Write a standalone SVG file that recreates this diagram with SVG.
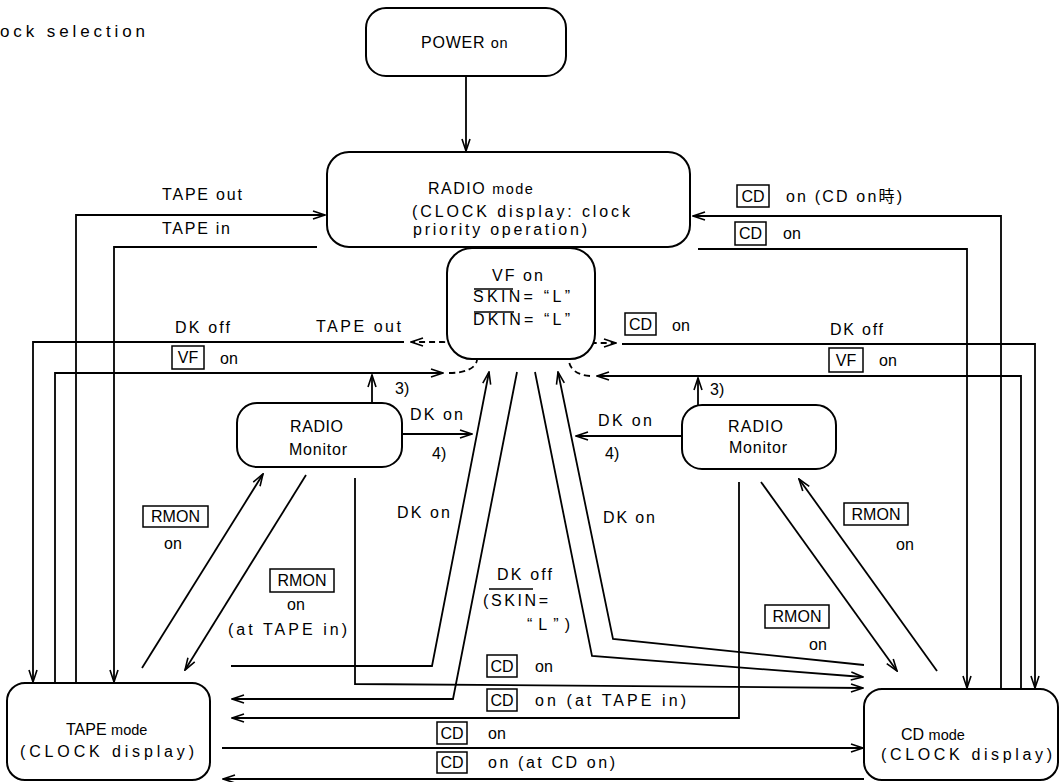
<svg xmlns="http://www.w3.org/2000/svg" width="1060" height="782" viewBox="0 0 1060 782">
<defs>
<style>
.n{fill:#fff;stroke:#000;stroke-width:2}
.c{fill:none;stroke:#000;stroke-width:1.8}
.d{fill:none;stroke:#000;stroke-width:1.8;stroke-dasharray:6 4}
.k{fill:none;stroke:#000;stroke-width:1.5}
.t{font-family:"Liberation Sans",Arial,"Noto Sans CJK JP",sans-serif;font-size:16px;fill:#000}
.s{font-size:14.5px}
.m{text-anchor:middle}
</style>
<marker id="a" viewBox="0 0 14 10" refX="13" refY="5" markerWidth="14" markerHeight="10" markerUnits="userSpaceOnUse" orient="auto"><path d="M1,1 L13,5 L1,9" fill="none" stroke="#000" stroke-width="1.6"/></marker>
</defs>
<rect width="1060" height="782" fill="#fff"/>
<text class="t" x="0" y="37" textLength="145" style="font-size:17px">ock selection</text>

<g id="connectors">
<path class="c" d="M466,76 L466,151" marker-end="url(#a)"/>
<path class="c" d="M76,683 L76,215 L325,215" marker-end="url(#a)"/>
<path class="c" d="M317,247 L114,247 L114,682" marker-end="url(#a)"/>
<path class="c" d="M1001,689 L1001,216 L693,216" marker-end="url(#a)"/>
<path class="c" d="M698,249 L967,249 L967,688" marker-end="url(#a)"/>
<path class="d" d="M477,360 C478,350 462,342 443,342 L411,342" marker-end="url(#a)"/>
<path class="c" d="M404,342 L33,342 L33,682" marker-end="url(#a)"/>
<path class="c" d="M55,683 L55,373 L443,373" marker-end="url(#a)"/>
<path class="d" d="M449,373 C466,373 476,368 477,360"/>
<path class="d" d="M569,360 C569,350 580,343 595,343 L616,343" marker-end="url(#a)"/>
<path class="c" d="M622,344 L1035,344 L1035,688" marker-end="url(#a)"/>
<path class="c" d="M1021,689 L1021,376 L597,376" marker-end="url(#a)"/>
<path class="d" d="M590,376 C576,375 569,368 569,360"/>
<path class="c" d="M372,402 L372,375" marker-end="url(#a)"/>
<path class="c" d="M698,405 L698,378" marker-end="url(#a)"/>
<path class="c" d="M402,434 L472,434" marker-end="url(#a)"/>
<path class="c" d="M682,436 L576,436" marker-end="url(#a)"/>
<path class="c" d="M231,666 L432,666 L489,372" marker-end="url(#a)"/>
<path class="c" d="M517,372 L453,699 L232,699" marker-end="url(#a)"/>
<path class="c" d="M864,665 L613,639 L558,372" marker-end="url(#a)"/>
<path class="c" d="M535,372 L592,656 L863,677" marker-end="url(#a)"/>
<path class="c" d="M355,478 L355,684 L863,688" marker-end="url(#a)"/>
<path class="c" d="M739,482 L739,718 L232,718" marker-end="url(#a)"/>
<path class="c" d="M222,748 L863,748" marker-end="url(#a)"/>
<path class="c" d="M864,779 L223,779" marker-end="url(#a)"/>
<path class="c" d="M142,668 L263,474" marker-end="url(#a)"/>
<path class="c" d="M306,475 L185,670" marker-end="url(#a)"/>
<path class="c" d="M761,482 L897,671" marker-end="url(#a)"/>
<path class="c" d="M937,671 L799,479" marker-end="url(#a)"/>
</g>

<g id="node-power">
<rect class="n" x="366" y="8" width="200" height="68" rx="20"/>
<text class="t" x="421" y="48" style="letter-spacing:0.8px">POWER <tspan class="s">on</tspan></text>
</g>
<g id="node-radio">
<rect class="n" x="327" y="152" width="363" height="95" rx="22"/>
<text class="t" x="428" y="194" style="letter-spacing:1.5px">RADIO <tspan class="s">mode</tspan></text>
<text class="t" x="412" y="217" textLength="218">(CLOCK display: clock</text>
<text class="t" x="413" y="235" textLength="174">priority operation)</text>
</g>
<g id="node-vf">
<rect class="n" x="447" y="248" width="148" height="111" rx="25"/>
<text class="t" x="492" y="281" textLength="51">VF on</text>
<text class="t" x="473" y="302" textLength="97">SKIN= “L”</text>
<text class="t" x="473" y="325" textLength="97">DKIN= “L”</text>
<path class="k" d="M474,289 L513,289 M474,312 L514,312"/>
</g>
<g id="node-mon-l">
<rect class="n" x="237" y="403" width="165" height="64" rx="20"/>
<text class="t" x="290" y="432" textLength="53">RADIO</text>
<text class="t" x="289" y="455" textLength="58">Monitor</text>
</g>
<g id="node-mon-r">
<rect class="n" x="682" y="405" width="154" height="64" rx="20"/>
<text class="t" x="728" y="432" textLength="55">RADIO</text>
<text class="t" x="729" y="453" textLength="58">Monitor</text>
</g>
<g id="node-tape">
<rect class="n" x="7" y="683" width="203" height="97" rx="18"/>
<text class="t" x="66" y="735">TAPE <tspan class="s">mode</tspan></text>
<text class="t" x="20" y="757" textLength="174">(CLOCK display)</text>
</g>
<g id="node-cd">
<rect class="n" x="864" y="689" width="194" height="91" rx="18"/>
<text class="t" x="901" y="740">CD <tspan class="s">mode</tspan></text>
<text class="t" x="881" y="760" textLength="171">(CLOCK display)</text>
</g>

<g id="labels">
<text class="t" x="162" y="200" textLength="80">TAPE out</text>
<text class="t" x="162" y="234" textLength="68">TAPE in</text>
<rect class="k" x="737" y="185" width="32" height="22"/><text class="t m" x="753" y="202">CD</text>
<text class="t" x="786" y="202" textLength="116">on (CD on時)</text>
<rect class="k" x="735" y="222" width="31" height="23"/><text class="t m" x="750.5" y="239">CD</text>
<text class="t" x="783" y="239">on</text>
<text class="t" x="175" y="333" textLength="55">DK off</text>
<text class="t" x="316" y="332" textLength="85">TAPE out</text>
<rect class="k" x="172" y="346" width="32" height="23"/><text class="t m" x="188" y="363">VF</text>
<text class="t" x="220" y="364">on</text>
<rect class="k" x="625" y="313" width="31" height="22"/><text class="t m" x="640.5" y="330">CD</text>
<text class="t" x="672" y="331">on</text>
<text class="t" x="830" y="335" textLength="53">DK off</text>
<rect class="k" x="829" y="348" width="34" height="24"/><text class="t m" x="846" y="366">VF</text>
<text class="t" x="879" y="366">on</text>
<text class="t" x="395" y="394">3)</text>
<text class="t" x="710" y="395">3)</text>
<text class="t" x="410" y="420" textLength="53">DK on</text>
<text class="t" x="432" y="459">4)</text>
<text class="t" x="598" y="426" textLength="54">DK on</text>
<text class="t" x="605" y="459">4)</text>
<rect class="k" x="143" y="506" width="65" height="21"/><text class="t m" x="175.5" y="522">RMON</text>
<text class="t" x="164" y="549">on</text>
<rect class="k" x="270" y="569" width="64" height="23"/><text class="t m" x="302" y="586">RMON</text>
<text class="t" x="287" y="610">on</text>
<text class="t" x="228" y="635" textLength="119">(at TAPE in)</text>
<text class="t" x="397" y="518" textLength="53">DK on</text>
<text class="t" x="603" y="523" textLength="52">DK on</text>
<text class="t" x="497" y="580" textLength="55">DK off</text>
<text class="t" x="483" y="606" textLength="65">(SKIN=</text>
<path class="k" d="M489,589 L533,589"/>
<text class="t" x="527" y="630" textLength="43">“L”)</text>
<rect class="k" x="844" y="503" width="64" height="22"/><text class="t m" x="876" y="520">RMON</text>
<text class="t" x="896" y="550">on</text>
<rect class="k" x="765" y="605" width="64" height="23"/><text class="t m" x="797" y="622">RMON</text>
<text class="t" x="809" y="650">on</text>
<rect class="k" x="487" y="655" width="30" height="22"/><text class="t m" x="502" y="672">CD</text>
<text class="t" x="535" y="672">on</text>
<rect class="k" x="487" y="689" width="30" height="22"/><text class="t m" x="502" y="706">CD</text>
<text class="t" x="535" y="706" textLength="151">on (at TAPE in)</text>
<rect class="k" x="437" y="722" width="30" height="22"/><text class="t m" x="452" y="739">CD</text>
<text class="t" x="488" y="739">on</text>
<rect class="k" x="437" y="752" width="30" height="21"/><text class="t m" x="452" y="768">CD</text>
<text class="t" x="488" y="768" textLength="127">on (at CD on)</text>
</g>
</svg>
